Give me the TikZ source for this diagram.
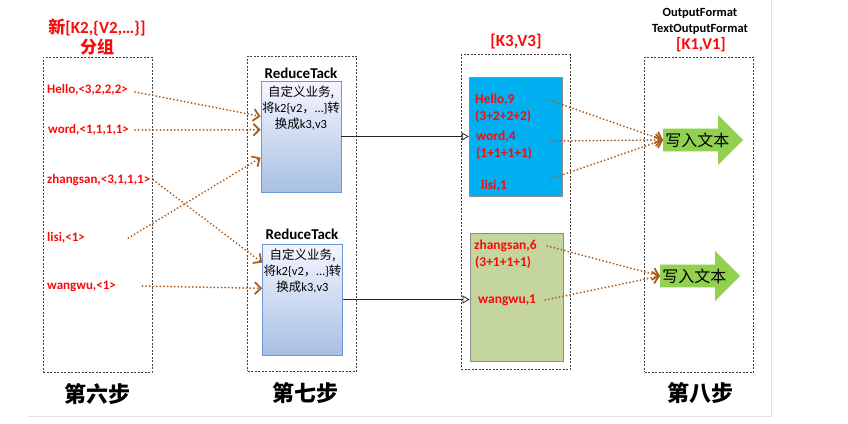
\documentclass[tikz,border=0pt]{standalone}
\usepackage{fontspec}
\setmainfont{Carlito}
\newfontfamily\cjk{Noto Sans CJK SC}
\usetikzlibrary{shapes.arrows,arrows.meta,positioning,calc}
\definecolor{lblred}{RGB}{250,10,10}
\definecolor{dotbrown}{RGB}{172,92,28}
\definecolor{kvcyan}{RGB}{0,176,240}
\definecolor{kvgreen}{RGB}{196,214,158}
\definecolor{arrgreen}{RGB}{146,208,80}
\definecolor{rtblue}{RGB}{110,150,210}

\begin{document}
\begin{tikzpicture}[x=1pt,y=-1pt,
  colbox/.style={draw=black!75, dash pattern=on 2pt off 1.5pt, line width=0.7pt, minimum width=109, minimum height=315, inner sep=0},
  redlab/.style={text=lblred, font=\bfseries\fontsize{13}{15}\selectfont, anchor=west, inner sep=1pt},
  kvlab/.style={text=lblred, font=\bfseries\fontsize{13.5}{16}\selectfont, anchor=west, inner sep=1pt},
  steplab/.style={font=\cjk\bfseries\fontsize{22}{25}\selectfont},
  rtbox/.style={draw=rtblue, line width=0.8pt, top color=blue!4!white, bottom color=rtblue!60!white, minimum width=80, minimum height=111, inner sep=0},
  rttext/.style={align=center, font=\fontsize{12.5}{16}\selectfont, anchor=north, yshift=-2pt},
  outarrow/.style={single arrow, fill=arrgreen, draw=arrgreen!60!white, densely dotted, single arrow head extend=12.5pt, minimum height=80, minimum width=50, inner ysep=3pt, inner xsep=2pt, font=\cjk\fontsize{16}{17}\selectfont, anchor=west},
  dots/.style={dotbrown, line width=2pt, dash pattern=on 0pt off 3.6pt, line cap=round, -{Straight Barb[length=6pt,width=12pt,line width=1.8pt]}},
  flow/.style={black!85, line width=0.8pt, -{Triangle[open,length=7pt,width=8pt]}}
]
\useasboundingbox (0,0) rectangle (848,423);
\draw[black!12, line width=1pt] (28,416) -- (771,416) -- (771,0);

% columns
\node[colbox] (c6) at (97.5,214.5) {};
\node[colbox] (c7) at (302,213.5) {};
\node[colbox] (c8) at (515.5,212) {};
\node[colbox] (c9) at (699,214.5) {};

\node[text=lblred, font=\bfseries\fontsize{17}{20}\selectfont, align=center] (t6) at (97,37) {{\cjk 新}[K2,\{V2,…\}]\\{\cjk 分组}};
\node[font=\bfseries\fontsize{15}{17}\selectfont] (t7) at (301,73) {ReduceTack};
\node[font=\bfseries\fontsize{15}{17}\selectfont] (t7b) at (302,234) {ReduceTack};
\node[text=lblred, font=\bfseries\fontsize{17}{19}\selectfont] (t8) at (516,42) {[K3,V3]};
\node[font=\bfseries\fontsize{12.5}{16}\selectfont, align=center] (t9) at (700,21) {OutputFormat\\TextOutputFormat};
\node[text=lblred, font=\bfseries\fontsize{16.5}{18}\selectfont] (t9b) at (701,45) {[K1,V1]};

\node[steplab] (s6) at (97,394) {第六步};
\node[steplab] (s7) at (305,393) {第七步};
\node[steplab] (s8) at (700,393) {第八步};

% step six
\node[redlab] (hello) at (46,90) {Hello,<3,2,2,2>};
\node[redlab] (word) at (47,130) {word,<1,1,1,1>};
\node[redlab] (zhang) at (46,180) {zhangsan,<3,1,1,1>};
\node[redlab] (lisi) at (46,238) {lisi,<1>};
\node[redlab] (wang) at (46,286) {wangwu,<1>};

% step seven
\node[rtbox] (rt1) at (301,136.5) {};
\node[rttext] at (rt1.north) {{\cjk 自定义业务,}\\{\cjk 将}k2\{v2{\cjk ，}…\}{\cjk 转}\\{\cjk 换成}k3,v3};
\node[rtbox] (rt2) at (302.5,299.5) {};
\node[rttext] at (rt2.north) {{\cjk 自定义业务,}\\{\cjk 将}k2\{v2{\cjk ，}…\}{\cjk 转}\\{\cjk 换成}k3,v3};

% k3,v3
\node[draw=black!45, fill=kvcyan, minimum width=93, minimum height=119, inner sep=0] (kv1) at (515.5,136.5) {};
\node[draw=black!45, line width=0.8pt, fill=kvgreen, minimum width=93, minimum height=128, inner sep=0] (kv2) at (516.5,297) {};
\node[kvlab] (hello9) at (474,100) {Hello,9};
\node[kvlab] at (474,117) {(3+2+2+2)};
\node[kvlab] (word4) at (475,137) {word,4};
\node[kvlab] at (475,154) {(1+1+1+1)};
\node[kvlab] (lisi1) at (480,186) {lisi,1};
\node[kvlab] (zhang6) at (473,246) {zhangsan,6};
\node[kvlab] at (474,263) {(3+1+1+1)};
\node[kvlab] (wang1) at (477,300) {wangwu,1};

% output
\node[outarrow] (out1) at (663,140) {写入文本};
\node[outarrow] (out2) at (660,276) {写入文本};

\draw[dots] ($(hello.east)+(6,2)$) -- ($(rt1.north west)!0.32!(rt1.south west)$);
\draw[dots] ($(word.east)+(5,0)$) -- ($(rt1.north west)!0.44!(rt1.south west)$);
\draw[dots] ($(lisi.east -| c6.east)+(-24,0)$) -- ($(rt1.north west)!0.69!(rt1.south west)$);
\draw[dots] ($(zhang.east)+(2,0)$) -- ($(rt2.north west)!0.17!(rt2.south west)$);
\draw[dots] ($(wang.east -| c6.east)+(-10,0)$) -- ($(rt2.north west)!0.40!(rt2.south west)$);

\draw[flow] (rt1.east) -- (kv1.west);
\draw[flow] (rt2.east) -- (rt2.east -| kv2.west);

\draw[dots] ($(hello9.east -| kv1.east)+(-13,0)$) -- (out1.west);
\draw[dots] ($(word4.east -| kv1.east)+(-12,4)$) -- (out1.west);
\draw[dots] ($(lisi1.east -| kv1.east)+(-12,-7)$) -- (out1.west);
\draw[dots] ($(zhang6.east -| kv2.east)+(-16,0)$) -- (out2.west);
\draw[dots] ($(wang1.east -| kv2.east)+(-18,0)$) -- (out2.west);
\end{tikzpicture}
\end{document}
